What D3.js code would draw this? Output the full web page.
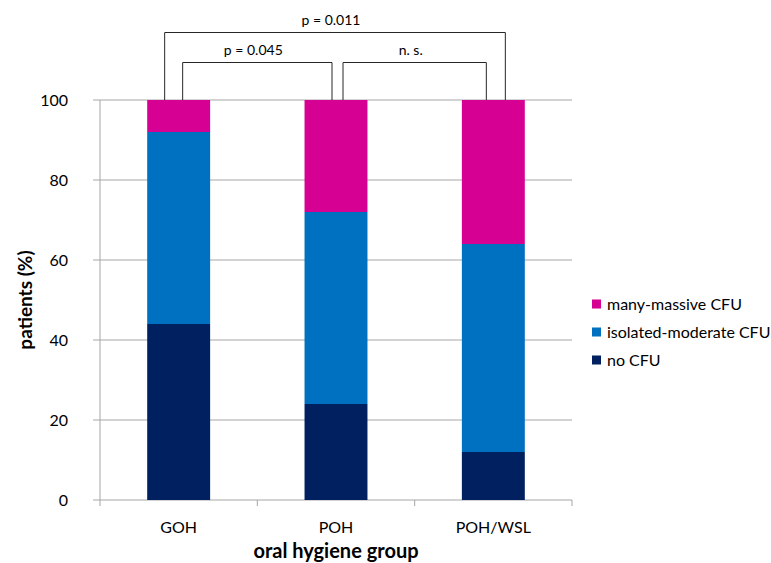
<!DOCTYPE html>
<html><head><meta charset="utf-8">
<script src="https://cdn.jsdelivr.net/npm/d3@7"></script>
<style>body{margin:0;background:#fff}svg{display:block}text{font-family:Lato,"Open Sans",sans-serif}</style>
</head><body>
<script>
const categories = ["GOH", "POH", "POH/WSL"];
const seriesNames = ["no CFU", "isolated-moderate CFU", "many-massive CFU"];
const noCFU = [44, 24, 12];
const isolatedModerate = [48, 48, 52];
const manyMassive = [8, 28, 36];
const yTicks = [0, 20, 40, 60, 80, 100];
const comparisons = [
  {from: "GOH", to: "POH/WSL", label: "p = 0.011", level: 2},
  {from: "GOH", to: "POH", label: "p = 0.045", level: 1},
  {from: "POH", to: "POH/WSL", label: "n. s.", level: 1}
];
const colors = ["#002060", "#0070C0", "#D60093"];

const W = 771, H = 563;
const svg = d3.select("body").append("svg").attr("width", W).attr("height", H);
const m = {l: 100, r: 199, t: 100, b: 63};
const x = d3.scaleBand().domain(categories).range([m.l, W - m.r]).paddingInner(0.6).paddingOuter(0.3);
const xb = d3.scaleBand().domain(categories).range([m.l, W - m.r]);
const y = d3.scaleLinear().domain([0, 100]).range([H - m.b, m.t]);

// gridlines
svg.append("g").selectAll("line").data(yTicks).join("line")
  .attr("x1", m.l - 7).attr("x2", W - m.r).attr("y1", d => y(d)).attr("y2", d => y(d))
  .attr("stroke", "#a6a6a6").attr("stroke-width", 1);
// y axis line
svg.append("line").attr("x1", m.l).attr("x2", m.l).attr("y1", y(100)).attr("y2", y(0)).attr("stroke", "#a6a6a6");
// x axis ticks
const xTickPos = categories.map(c => xb(c)).concat([xb(categories[categories.length-1]) + xb.bandwidth()]);
svg.append("g").selectAll("line").data(xTickPos).join("line")
  .attr("x1", d => d).attr("x2", d => d).attr("y1", y(0)).attr("y2", y(0) + 6).attr("stroke", "#a6a6a6");

// y tick labels
svg.append("g").selectAll("text").data(yTicks).join("text")
  .attr("x", 68).attr("y", d => y(d)).attr("dy", "0.35em").attr("text-anchor", "end")
  .attr("font-size", 16).attr("fill", "#000").text(d => d);

// stacked bars
const data = categories.map((c, i) => ({cat: c, "no CFU": noCFU[i], "isolated-moderate CFU": isolatedModerate[i], "many-massive CFU": manyMassive[i]}));
const stack = d3.stack().keys(seriesNames)(data);
svg.append("g").selectAll("g").data(stack).join("g").attr("fill", (d, i) => colors[i])
  .selectAll("rect").data(d => d).join("rect")
  .attr("x", d => x(d.data.cat)).attr("width", x.bandwidth())
  .attr("y", d => y(d[1])).attr("height", d => y(d[0]) - y(d[1]));

// category labels
svg.append("g").selectAll("text").data(categories).join("text")
  .attr("x", d => xb(d) + xb.bandwidth() / 2).attr("y", 527).attr("dy", "0.35em")
  .attr("text-anchor", "middle").attr("font-size", 16).text(d => d);

// axis titles
svg.append("text").attr("x", (m.l + W - m.r) / 2).attr("y", 551).attr("dy", "0.35em")
  .attr("text-anchor", "middle").attr("font-size", 20).attr("font-weight", "bold").text("oral hygiene group");
svg.append("text").attr("transform", `translate(25,${(y(0) + y(100)) / 2}) rotate(-90)`).attr("dy", "0.35em")
  .attr("text-anchor", "middle").attr("font-size", 19).attr("font-weight", "bold").text("patients (%)");

// legend
const legendOrder = [2, 1, 0];
const lg = svg.append("g").selectAll("g").data(legendOrder).join("g")
  .attr("transform", (d, i) => `translate(592,${304 + i * 28})`);
lg.append("rect").attr("x", 0).attr("y", -4.5).attr("width", 9).attr("height", 9).attr("fill", d => colors[d]);
lg.append("text").attr("x", 15).attr("y", 0).attr("dy", "0.35em").attr("font-size", 16).text(d => seriesNames[d]);

// significance brackets
const bracketY = {1: 62.5, 2: 32.5};
const offsets = {"GOH|POH/WSL": [-14, 12], "GOH|POH": [4, -4], "POH|POH/WSL": [7, -7]};
const bg = svg.append("g");
comparisons.forEach(cmp => {
  const o = offsets[cmp.from + "|" + cmp.to];
  const x1 = xb(cmp.from) + xb.bandwidth() / 2 + o[0];
  const x2 = xb(cmp.to) + xb.bandwidth() / 2 + o[1];
  const yt = bracketY[cmp.level];
  bg.append("path").attr("d", `M${x1},${y(100)}V${yt}H${x2}V${y(100)}`)
    .attr("fill", "none").attr("stroke", "#262626").attr("stroke-width", 1);
  bg.append("text").attr("x", (x1 + x2) / 2 - 4).attr("y", yt - 12).attr("dy", "0.35em")
    .attr("text-anchor", "middle").attr("font-size", 14).text(cmp.label);
});
</script>
</body></html>
